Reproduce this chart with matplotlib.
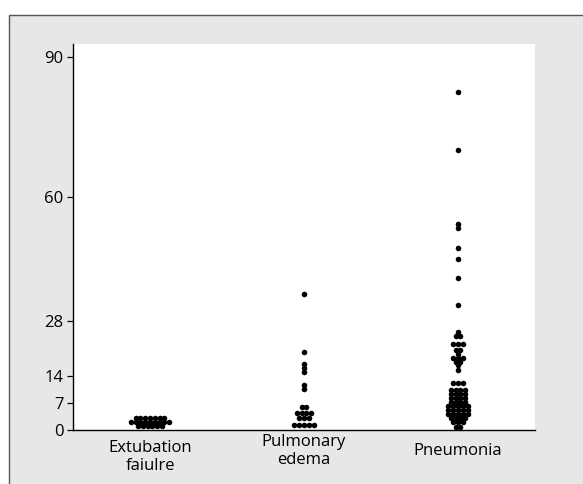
import numpy as np
import matplotlib
matplotlib.use("Agg")
import matplotlib.pyplot as plt
from matplotlib.patches import Rectangle

plt.rcParams['font.family'] = ['Open Sans', 'DejaVu Sans']

groups = ["Extubation\nfaiulre", "Pulmonary\nedema", "Pneumonia"]
extubation = [3]*7 + [2]*9 + [1]*6
pulmonary = [35, 20, 17, 16, 15, 11.5, 10.5] + [6]*2 + [4.5]*4 + [3]*3 + [1.4]*5
pneumonia = ([82.6, 70, 53, 52, 46.7, 44.1, 39, 32.1, 25.3] + [24.2]*2 + [22]*3
             + [20.6]*2 + [19.5] + [18.5]*3 + [17.6]*2 + [16.7] + [15.4]
             + [12]*3 + [10.3]*4 + [9.3]*4 + [8.2]*4 + [7.2]*4 + [6.2]*5
             + [5.1]*5 + [4.1]*5 + [3.1]*4 + [2.1]*3 + [0.8]*2)
yticks = [0, 7, 14, 28, 60, 90]

# the printed axis is stretched above 60
k = 1.195
def fwd(v):
    v = np.asarray(v, dtype=float)
    return np.where(v <= 60, v, 60 + (v - 60) * k)
def inv(u):
    u = np.asarray(u, dtype=float)
    return np.where(u <= 60, u, 60 + (u - 60) / k)

def dot_layout(vals, dx=0.031):
    vals = np.asarray(vals, dtype=float)
    xs = np.zeros_like(vals)
    for v in np.unique(vals):
        idx = np.where(vals == v)[0]
        n = len(idx)
        xs[idx] = (np.arange(n) - (n - 1) / 2) * dx
    return xs, vals

fig = plt.figure(figsize=(5.83, 4.84), dpi=100)
fig.patches.append(Rectangle((9/583, -0.1), 1.2, 1.1 - 15.5/484,
                             transform=fig.transFigure, facecolor='#e6e7e8',
                             edgecolor='#555555', linewidth=1.0, zorder=-10))
ax = fig.add_axes([73/583, 54/484, (535-73)/583, (430-44)/484])
ax.set_facecolor('white')
ax.set_yscale('function', functions=(fwd, inv))

for i, data in enumerate([extubation, pulmonary, pneumonia]):
    xo, yv = dot_layout(data)
    ax.scatter(i + xo, yv, s=16, color='black', linewidths=0, zorder=3)

ax.set_xlim(-0.5, 2.5)
ax.set_ylim(0, 92.9)
ax.set_yticks(yticks)
ax.set_yticklabels([str(t) for t in yticks], fontsize=12)
ax.set_xticks([])
ax.tick_params(axis='y', length=4.5, width=0.9, pad=2.5, direction='out')
for s in ['top', 'right']:
    ax.spines[s].set_visible(False)
for s in ['left', 'bottom']:
    ax.spines[s].set_linewidth(1.0)

offsets = [27, 21, 21]
for i, (lab, dy) in enumerate(zip(groups, offsets)):
    ax.annotate(lab, xy=(i, 0), xycoords=('data', 'axes fraction'),
                xytext=(0, -dy), textcoords='offset pixels',
                ha='center', va='center', fontsize=12, linespacing=1.2,
                annotation_clip=False)

fig.savefig('out.png', dpi=100)
